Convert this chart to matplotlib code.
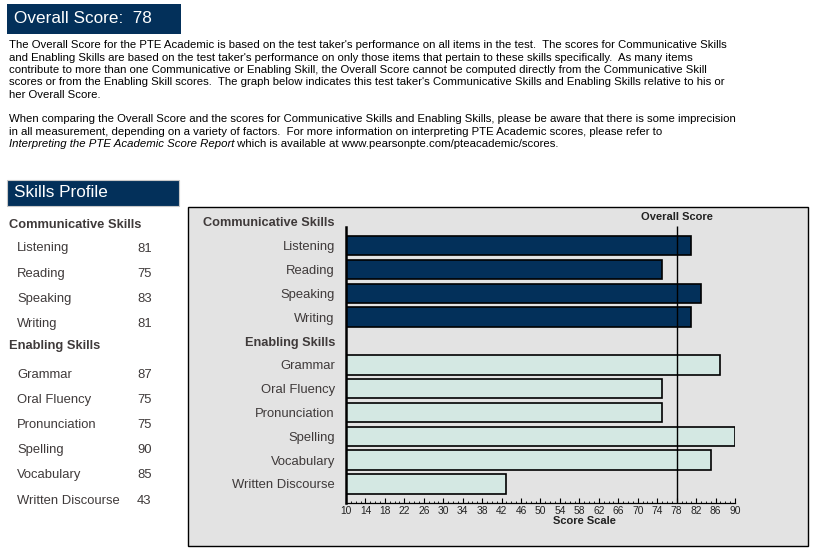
import matplotlib
matplotlib.use("Agg")
import matplotlib.pyplot as plt
from matplotlib.patches import Rectangle
from matplotlib import font_manager as fm

# ---------------- data ----------------
overall_score = 78
comm_header = "Communicative Skills"
comm_skills = ["Listening", "Reading", "Speaking", "Writing"]
comm_scores = [81, 75, 83, 81]
enab_header = "Enabling Skills"
enab_skills = ["Grammar", "Oral Fluency", "Pronunciation", "Spelling", "Vocabulary", "Written Discourse"]
enab_scores = [87, 75, 75, 90, 85, 43]
scale_min, scale_max, scale_step = 10, 90, 4

para1 = [
    "The Overall Score for the PTE Academic is based on the test taker's performance on all items in the test.  The scores for Communicative Skills",
    "and Enabling Skills are based on the test taker's performance on only those items that pertain to these skills specifically.  As many items",
    "contribute to more than one Communicative or Enabling Skill, the Overall Score cannot be computed directly from the Communicative Skill",
    "scores or from the Enabling Skill scores.  The graph below indicates this test taker's Communicative Skills and Enabling Skills relative to his or",
    "her Overall Score.",
]
para2 = [
    "When comparing the Overall Score and the scores for Communicative Skills and Enabling Skills, please be aware that there is some imprecision",
    "in all measurement, depending on a variety of factors.  For more information on interpreting PTE Academic scores, please refer to",
]
para2_italic = "Interpreting the PTE Academic Score Report"
para2_tail = " which is available at www.pearsonpte.com/pteacademic/scores."

# ---------------- style ----------------
NAVY = "#03305a"
LIGHT = "#d4e8e3"
PANEL = "#e3e3e3"
TXT = "#3f3a3a"
FONT = "Liberation Sans"
names = {f.name for f in fm.fontManager.ttflist}
NARROW = "Liberation Sans Narrow" if "Liberation Sans Narrow" in names else FONT
plt.rcParams["font.family"] = [FONT, "DejaVu Sans"]

W, H = 820, 556
fig = plt.figure(figsize=(W / 100, H / 100), dpi=100)
fig.patch.set_facecolor("white")


def fx(x):
    return x / W


def fy(y):
    return 1 - y / H


# header boxes
fig.patches.append(Rectangle((fx(7), fy(34)), fx(174), 30 / H, transform=fig.transFigure,
                             facecolor=NAVY, edgecolor="none", zorder=-2))
fig.text(fx(14), fy(18.5), f"Overall Score:  {overall_score}", color="white", fontsize=12.3,
         va="center", ha="left")

# paragraphs
PF = 8.22
y0, dy = 45.2, 12.35
for i, line in enumerate(para1):
    fig.text(fx(9), fy(y0 + i * dy), line, fontsize=PF, va="center", ha="left", color="black")
y1 = 119.3
for i, line in enumerate(para2):
    fig.text(fx(9), fy(y1 + i * dy), line, fontsize=PF, va="center", ha="left", color="black")
t_it = fig.text(fx(9), fy(y1 + 2 * dy), para2_italic, fontsize=PF, style="italic",
                va="center", ha="left", color="black")
renderer = fig.canvas.get_renderer()
bb = t_it.get_window_extent(renderer=renderer)
fig.text(bb.x1 / W, fy(y1 + 2 * dy), para2_tail, fontsize=PF, va="center", ha="left", color="black")

# skills profile box
fig.patches.append(Rectangle((fx(7), fy(206)), fx(172), 26 / H, transform=fig.transFigure,
                             facecolor=NAVY, edgecolor="#c8c8c8", linewidth=0.8, zorder=-2))
fig.text(fx(14), fy(192.5), "Skills Profile", color="white", fontsize=12.3, va="center", ha="left")

# left list
fig.text(fx(9), fy(225.5), comm_header, fontsize=9.3, fontweight="bold", color=TXT, va="center")
rows = [(n, s, False) for n, s in zip(comm_skills, comm_scores)] + [(enab_header, None, True)] + \
       [(n, s, False) for n, s in zip(enab_skills, enab_scores)]
for k, (name, score, hdr) in enumerate(rows):
    yy = 248.5 + 25.2 * k
    if hdr:
        fig.text(fx(9), fy(yy - 3), name, fontsize=9.3, fontweight="bold", color=TXT, va="center")
    else:
        fig.text(fx(17), fy(yy), name, fontsize=9.4, color=TXT, va="center")
        fig.text(fx(137), fy(yy), str(score), fontsize=9.4, color=TXT, va="center")

# chart panel
fig.patches.append(Rectangle((fx(188), fy(546)), fx(620), 339 / H, transform=fig.transFigure,
                             facecolor=PANEL, edgecolor="black", linewidth=1.0, zorder=-1))

# chart axes
ax_l, ax_r, ax_t, ax_b = 346, 735, 210, 503
ax = fig.add_axes([fx(ax_l), fy(ax_b), (ax_r - ax_l) / W, (ax_b - ax_t) / H])
ax.set_zorder(2)
ax.set_facecolor("none")

labels = [comm_header] + comm_skills + [enab_header] + enab_skills
ypos = list(range(len(labels)))
comm_pos = ypos[1:1 + len(comm_skills)]
enab_pos = ypos[2 + len(comm_skills):]

ax.barh(comm_pos, [s - scale_min for s in comm_scores], left=scale_min, height=0.82,
        color=NAVY, edgecolor="black", linewidth=1.2, zorder=2)
ax.barh(enab_pos, [s - scale_min for s in enab_scores], left=scale_min, height=0.82,
        color=LIGHT, edgecolor="black", linewidth=1.2, zorder=2)

ax.set_xlim(scale_min, scale_max)
ax.set_ylim(11.8, -0.5)
ax.vlines(overall_score, 0.17, 11.8, color="black", linewidth=1.0, zorder=3)
ax.text(overall_score, -0.22, "Overall Score", ha="center", va="center", fontsize=8,
        fontweight="bold", color="#222222")

ax.set_yticks(ypos)
ax.set_yticklabels(labels, fontsize=9.4, color=TXT)
for t, lab in zip(ax.get_yticklabels(), labels):
    if lab in (comm_header, enab_header):
        t.set_fontweight("bold")
        t.set_fontsize(9.2)
ax.tick_params(axis="y", length=0, pad=8)

ax.set_xticks(list(range(scale_min, scale_max + 1, scale_step)))
ax.set_xticks(list(range(scale_min, scale_max + 1)), minor=True)
ax.set_xticklabels([str(v) for v in range(scale_min, scale_max + 1, scale_step)],
                   fontsize=7.4, family=NARROW, color="#222222")
ax.tick_params(axis="x", which="major", direction="in", length=3.6, width=0.8, pad=2.2)
ax.tick_params(axis="x", which="minor", direction="in", length=1.6, width=0.6)
ax.set_xlabel("Score Scale", fontsize=8, fontweight="bold", color="#222222", labelpad=0)
ax.xaxis.set_label_coords(0.614, -0.045)

for side in ("top", "right"):
    ax.spines[side].set_visible(False)
ax.spines["left"].set_linewidth(1.8)
ax.spines["left"].set_bounds(0.21, 11.8)
ax.spines["bottom"].set_linewidth(0.9)

fig.savefig("out.png", dpi=100, facecolor="white")
